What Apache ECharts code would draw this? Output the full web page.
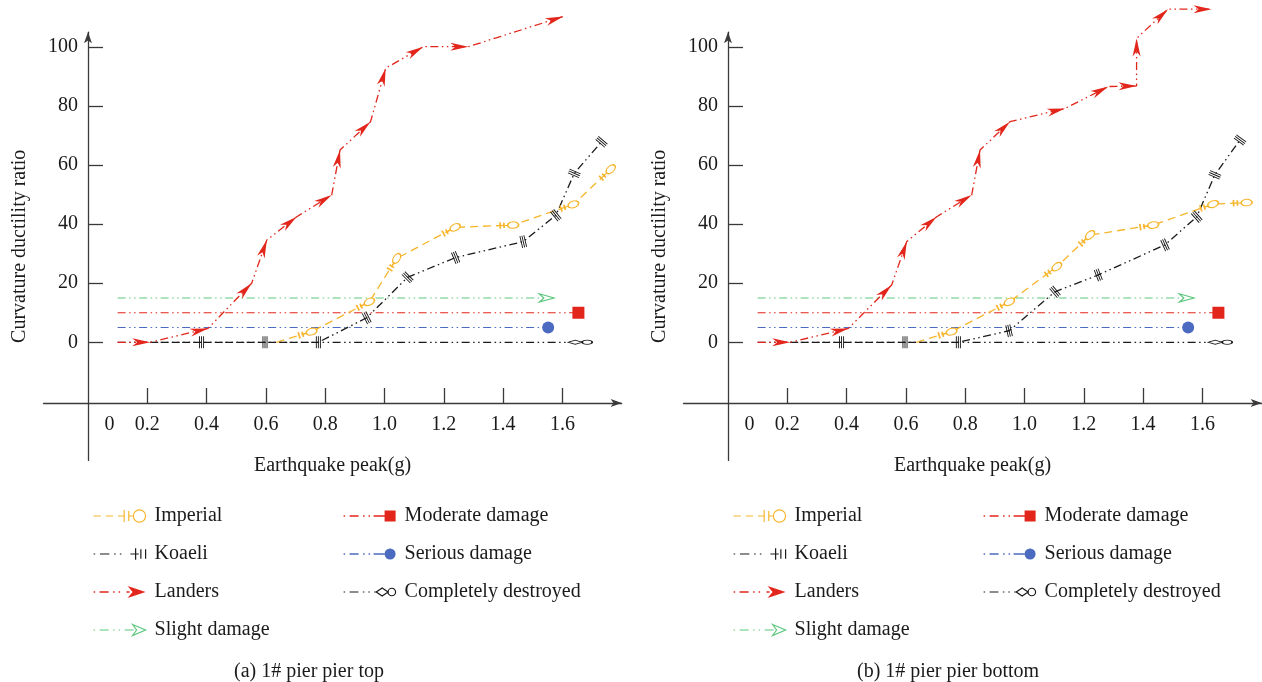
<!DOCTYPE html>
<html><head><meta charset="utf-8">
<script src="https://cdn.jsdelivr.net/npm/echarts@6/dist/echarts.min.js"></script>
<style>html,body{margin:0;padding:0;background:#fff}#c{width:1262px;height:682px}</style>
</head><body><div id="c"></div>
<script>
// ---- tick / label values ----
const xTickValues = [0.2, 0.4, 0.6, 0.8, 1.0, 1.2, 1.4, 1.6];
const xLabelValues = [0.0725, 0.2, 0.4, 0.6, 0.8, 1.0, 1.2, 1.4, 1.6];
const yTickValues = [0, 20, 40, 60, 80, 100];

// ---- (a) pier top ----
const topImperialX = [0.636, 0.754, 0.949, 1.041, 1.238, 1.434, 1.637, 1.763];
const topImperialY = [0, 3.6, 13.7, 28.4, 38.9, 39.7, 46.7, 58.6];
const topKoaeliX = [0.21, 0.383, 0.597, 0.777, 0.94, 1.078, 1.24, 1.468, 1.578, 1.64, 1.732];
const topKoaeliY = [0, 0, 0, 0, 8.3, 22, 28.7, 34.1, 43, 57.2, 67.9];
const topLandersX = [0.1, 0.21, 0.405, 0.552, 0.603, 0.704, 0.822, 0.85, 0.953, 1.004, 1.131, 1.283, 1.603];
const topLandersY = [0, 0, 4.7, 20, 34.6, 42.5, 49.9, 65.1, 74.7, 92.8, 100.1, 100.1, 110.3];

// ---- (b) pier bottom ----
const botImperialX = [0.636, 0.754, 0.949, 1.109, 1.221, 1.434, 1.636, 1.749];
const botImperialY = [0, 3.6, 13.7, 25.6, 36.3, 39.7, 46.8, 47.3];
const botKoaeliX = [0.21, 0.383, 0.597, 0.777, 0.948, 1.103, 1.249, 1.474, 1.581, 1.642, 1.727];
const botKoaeliY = [0, 0, 0, 0, 3.9, 17.1, 22.8, 33, 42.5, 56.7, 68.5];
const botLandersX = [0.1, 0.21, 0.406, 0.552, 0.603, 0.704, 0.822, 0.85, 0.951, 1.137, 1.283, 1.378, 1.378, 1.484, 1.631];
const botLandersY = [0, 0, 4.7, 19.4, 34.1, 42.5, 49.9, 65.1, 74.7, 79.2, 86.6, 86.8, 102.9, 112.8, 112.8];

// ---- damage thresholds (same for both) ----
const damageNames = ['Slight damage', 'Moderate damage', 'Serious damage', 'Completely destroyed'];
const damageLevels = [15, 10, 5, 0];
const damageStartX = [0.1, 0.1, 0.1, 0.1];
const damageEndX = [1.547, 1.654, 1.552, 1.66];

const captions = ['(a) 1# pier pier top', '(b) 1# pier pier bottom'];

// ---- styling ----
const FONT = '"Liberation Serif", "DejaVu Serif", serif';
const AX = '#3a3a3a';
const TXT = '#1a1a1a';
const C_IMP = '#F6B52B', C_KOA = '#1a1a1a', C_LAN = '#E2261B', C_SLI = '#5DC77D', C_MOD = '#E2261B', C_SER = '#4B6BC0', C_DES = '#1a1a1a';
const DASH_IMP = [8, 5];
const DASH_DDOT = [8, 3.5, 1.5, 3.5, 1.5, 3.5];

// plot marker shapes
const SYM_ARROW = 'path://M0,0 L18,6 L0,12 L5,6 Z';
const SYM_IMP = 'path://M0,0 L0,11 M3.8,1 L3.8,10 M3.8,5.5 L7.5,5.5 M7.5,5.5 A5.5,5.5 0 1,0 18.5,5.5 A5.5,5.5 0 1,0 7.5,5.5 Z';
const SYM_KOA = 'path://M0,0 L0,12 M3.5,0 L3.5,12 M7,0 L7,12';
const SYM_SLI = 'path://M0,0 L16,6 L0,12 L5,6 Z';
const SYM_DES = 'path://M0,5 L7,0 L14,5 L7,10 Z M14,5 A5,5 0 1,0 24,5 A5,5 0 1,0 14,5 Z';

// legend icon shapes (line + marker)
const DOTS = 'M0,7 L1.5,7 M6,7 L15,7 M19.5,7 L21,7 M25,7 L26.5,7 ';
const DOTS_F = 'M0,6.3 h1.5 v1.4 h-1.5 Z M6,6.3 h9 v1.4 h-9 Z M19.5,6.3 h1.5 v1.4 h-1.5 Z M25,6.3 h1.5 v1.4 h-1.5 Z ';
const LEG_IMP = 'path://M0,7 L7,7 M12,7 L19,7 M24,7 L30,7 M30,1 L30,13 M34.5,2 L34.5,12 M34.5,7 L39,7 M39,7 A6,6 0 1,0 51,7 A6,6 0 1,0 39,7 Z';
const LEG_KOA = 'path://' + DOTS + 'M35,7 L43,7 M40,1.5 L40,12.5 M45,2.5 L45,11.5 M49.5,2.5 L49.5,11.5';
const LEG_LAN = 'path://' + DOTS_F + 'M33,6.3 h3 v1.4 h-3 Z M34,1 L52,7 L34,13 L39,7 Z';
const LEG_SLI = 'path://' + DOTS + 'M31,7 L40,7 M39,1.5 L52,7 L39,12.5 L43,7 Z';
const LEG_MOD = 'path://' + DOTS_F + 'M30,6.3 h11 v1.4 h-11 Z M41,1.5 h11 v11 h-11 Z';
const LEG_SER = 'path://' + DOTS_F + 'M30,6.3 h11 v1.4 h-11 Z M41,7 A5.5,5.5 0 1,0 52,7 A5.5,5.5 0 1,0 41,7 Z';
const LEG_DES = 'path://' + DOTS + 'M31,7 L33,7 M33,7 L39,3 L45,7 L39,11 Z M45,7 A3.8,3.8 0 1,0 52.6,7 A3.8,3.8 0 1,0 45,7 Z';

const gridLefts = [43.5, 683.5];
const chart = echarts.init(document.getElementById('c'), null, {renderer: 'canvas'});

function grid(i) {
  return {left: gridLefts[i], top: 32.2, width: 578.2, height: 428.2, outerBoundsMode: 'none', containLabel: false};
}
function xAxis(i) {
  return {
    type: 'value', gridIndex: i, min: -0.15, max: 1.8, offset: -57.4,
    name: 'Earthquake peak(g)', nameLocation: 'middle', nameGap: 53,
    nameTextStyle: {fontFamily: FONT, fontSize: 20, color: TXT},
    axisLine: {onZero: false, lineStyle: {color: AX, width: 1.3}, symbol: ['none', 'arrow'], symbolSize: [6, 11]},
    axisTick: {inside: true, length: 15, customValues: xTickValues, lineStyle: {color: AX, width: 1.3}},
    axisLabel: {customValues: xLabelValues, margin: 12, fontFamily: FONT, fontSize: 20, color: TXT,
      formatter: v => (v < 0.1 ? '0' : v.toFixed(1))},
    splitLine: {show: false}
  };
}
function yAxis(i) {
  return {
    type: 'value', gridIndex: i, min: -40, max: 105, offset: -44.5,
    name: 'Curvature ductility ratio', nameLocation: 'middle', nameGap: 58, nameRotate: 90,
    nameTextStyle: {fontFamily: FONT, fontSize: 20, color: TXT},
    axisLine: {onZero: false, lineStyle: {color: AX, width: 1.3}, symbol: ['none', 'arrow'], symbolSize: [6, 11]},
    axisTick: {inside: true, length: 15, customValues: yTickValues, lineStyle: {color: AX, width: 1.3}},
    axisLabel: {customValues: yTickValues, margin: 10, fontFamily: FONT, fontSize: 20, color: TXT},
    splitLine: {show: false}
  };
}

function raw(xs, ys) { return xs.map((x, k) => [x, ys[k]]); }

function curveSeries(i, name, xs, ys, color, dash, sym, size, itemStyle) {
  return {
    type: 'line', name: name, xAxisIndex: i, yAxisIndex: i, clip: false,
    data: raw(xs, ys), symbol: sym, symbolSize: size, symbolKeepAspect: true, showSymbol: true,
    lineStyle: {color: color, width: 1.3, type: dash},
    itemStyle: itemStyle,
    emphasis: {disabled: true}, z: 3, animation: false
  };
}
function damageSeries(i, k) {
  const colors = [C_SLI, C_MOD, C_SER, C_DES];
  const syms = [SYM_SLI, 'rect', 'circle', SYM_DES];
  const sizes = [[15, 11], 12, 12, [24, 10]];
  const item = [
    {color: '#fff', borderColor: C_SLI, borderWidth: 1.2},
    {color: C_MOD, borderWidth: 0},
    {color: C_SER, borderWidth: 0},
    {color: '#fff', borderColor: C_DES, borderWidth: 1.2}
  ][k];
  return {
    type: 'line', name: damageNames[k], xAxisIndex: i, yAxisIndex: i, clip: false,
    data: [{value: [damageStartX[k], damageLevels[k]], symbol: 'none'}, {value: [damageEndX[k], damageLevels[k]]}],
    symbol: syms[k], symbolSize: sizes[k], symbolKeepAspect: true,
    lineStyle: {color: colors[k], width: 1.2, type: DASH_DDOT},
    itemStyle: item, emphasis: {disabled: true}, z: 2, animation: false
  };
}

const ST_IMP = {color: '#fff', borderColor: C_IMP, borderWidth: 1.3};
const ST_KOA = {color: '#fff', borderColor: C_KOA, borderWidth: 1.2};
const ST_LAN = {color: C_LAN, borderWidth: 0};
const curveDefs = [
  [0, 'Imperial', topImperialX, topImperialY, C_IMP, DASH_IMP, SYM_IMP, [18.5, 11], 3.75, ST_IMP],
  [0, 'Koaeli', topKoaeliX, topKoaeliY, C_KOA, DASH_DDOT, SYM_KOA, [7, 12], 0, ST_KOA],
  [0, 'Landers', topLandersX, topLandersY, C_LAN, DASH_DDOT, SYM_ARROW, [18, 12], 9, ST_LAN],
  [1, 'Imperial', botImperialX, botImperialY, C_IMP, DASH_IMP, SYM_IMP, [18.5, 11], 3.75, ST_IMP],
  [1, 'Koaeli', botKoaeliX, botKoaeliY, C_KOA, DASH_DDOT, SYM_KOA, [7, 12], 0, ST_KOA],
  [1, 'Landers', botLandersX, botLandersY, C_LAN, DASH_DDOT, SYM_ARROW, [18, 12], 9, ST_LAN]
];

const OUT = c => ({color: '#fff', borderColor: c, borderWidth: 1.2});
const FILL = c => ({color: c, borderWidth: 0});
function legends(i) {
  const base = {
    orient: 'vertical', itemWidth: 52, itemHeight: 14, itemGap: 18, top: 501,
    textStyle: {fontFamily: FONT, fontSize: 20, color: TXT, lineHeight: 20, padding: [0, 0, 0, 4]},
    selectedMode: false
  };
  return [
    Object.assign({}, base, {left: gridLefts[i] + 44.5, data: [
      {name: 'Imperial', icon: LEG_IMP, itemStyle: OUT(C_IMP)},
      {name: 'Koaeli', icon: LEG_KOA, itemStyle: OUT(C_KOA)},
      {name: 'Landers', icon: LEG_LAN, itemStyle: FILL(C_LAN)},
      {name: 'Slight damage', icon: LEG_SLI, itemStyle: OUT(C_SLI)}
    ]}),
    Object.assign({}, base, {left: gridLefts[i] + 294.5, data: [
      {name: 'Moderate damage', icon: LEG_MOD, itemStyle: FILL(C_MOD)},
      {name: 'Serious damage', icon: LEG_SER, itemStyle: FILL(C_SER)},
      {name: 'Completely destroyed', icon: LEG_DES, itemStyle: OUT(C_DES)}
    ]})
  ];
}

function buildSeries(marked) {
  const s = [];
  for (let i = 0; i < 2; i++) for (let k = 0; k < 4; k++) s.push(damageSeries(i, k));
  curveDefs.forEach((d, n) => {
    const ser = curveSeries(d[0], d[1], d[2], d[3], d[4], d[5], d[6], d[7], d[9]);
    if (marked) ser.data = marked[n];
    s.push(ser);
  });
  return s;
}

const option = {
  animation: false,
  backgroundColor: '#fff',
  grid: [grid(0), grid(1)],
  xAxis: [xAxis(0), xAxis(1)],
  yAxis: [yAxis(0), yAxis(1)],
  legend: legends(0).concat(legends(1)),
  title: [
    {text: captions[0], left: 229, top: 657, textStyle: {fontFamily: FONT, fontSize: 20, fontWeight: 'normal', color: TXT}},
    {text: captions[1], left: 852, top: 657, textStyle: {fontFamily: FONT, fontSize: 20, fontWeight: 'normal', color: TXT}}
  ],
  series: buildSeries(null)
};
chart.setOption(option);

// orient markers along the incoming segment direction using the library's own scales
const marked = curveDefs.map(d => {
  const gi = d[0], xs = d[2], ys = d[3], dist = d[8];
  return xs.map((x, k) => {
    const item = {value: [x, ys[k]]};
    if (k === 0) { item.symbol = 'none'; return item; }
    const p = chart.convertToPixel({gridIndex: gi}, [x, ys[k]]);
    const q = chart.convertToPixel({gridIndex: gi}, [xs[k - 1], ys[k - 1]]);
    const ang = Math.atan2(-(p[1] - q[1]), p[0] - q[0]);
    item.symbolRotate = ang * 180 / Math.PI;
    item.symbolOffset = [-dist * Math.cos(ang), dist * Math.sin(ang)];
    return item;
  });
});
chart.setOption({series: buildSeries(marked)});
</script></body></html>
